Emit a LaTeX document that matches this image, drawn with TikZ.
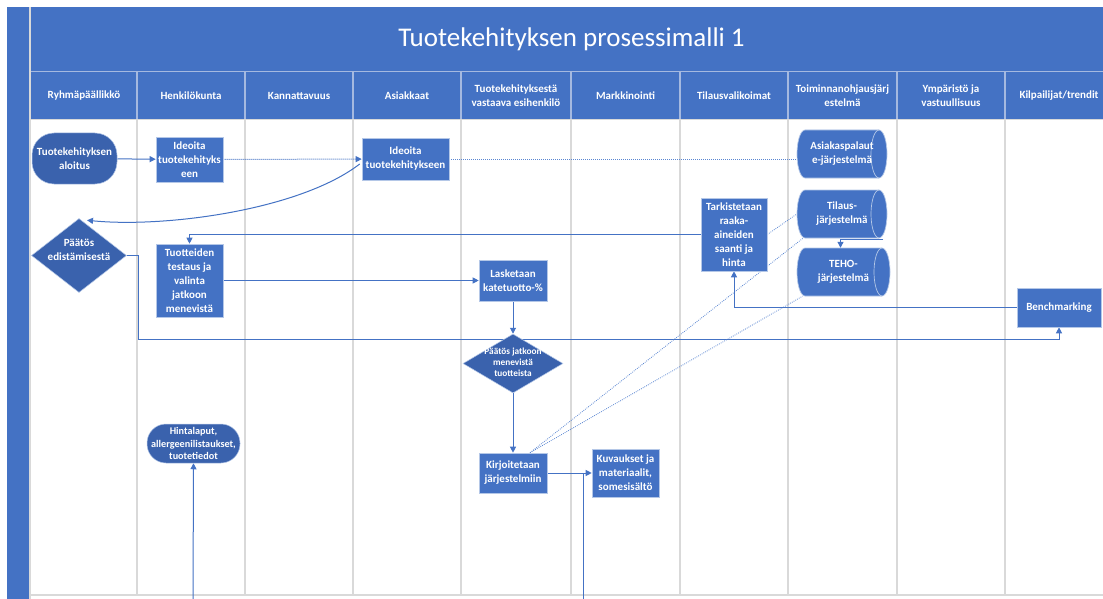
\documentclass[tikz,border=0pt]{standalone}
\usepackage{fontspec}
\setmainfont{Carlito}
\usetikzlibrary{arrows.meta,shapes.geometric,calc}
\definecolor{brandblue}{HTML}{4472C4}
\definecolor{deepblue}{HTML}{3A62AD}
\definecolor{boxedge}{HTML}{B4C7E7}
\definecolor{laneline}{HTML}{D9D9D9}
\definecolor{headline}{HTML}{A5B9E0}
\definecolor{dotblue}{HTML}{5A86D2}
\pgfdeclarelayer{back}
\pgfdeclarelayer{wires}
\pgfsetlayers{back,wires,main}
\tikzset{
  lbl/.style={text=white, align=center, inner sep=0pt, font=\fontsize{11}{14}\selectfont\bfseries},
  headlbl/.style={lbl},
  procbox/.style={lbl, rectangle, fill=brandblue, draw=boxedge, line width=0.6pt},
  termbox/.style={lbl, rectangle, fill=deepblue, draw=boxedge, line width=0.5pt, rounded corners=#1},
  decision/.style={diamond, fill=deepblue, draw=boxedge, line width=0.5pt, inner sep=0pt},
  storeskin/.style={fill=brandblue, draw=boxedge, line width=0.7pt},
  flow/.style={draw=brandblue, line width=1pt, -{Triangle[length=6pt,width=6pt]}},
  plainwire/.style={draw=brandblue, line width=1pt},
  dotwire/.style={draw=dotblue, line width=0.8pt, dash pattern=on 0.8pt off 1.2pt},
  lane/.style={draw=laneline, line width=1.4pt},
  headsep/.style={draw=headline, line width=1.1pt},
}
% horizontal data-store cylinder: name, centre x, centre y, width, text
\newcommand\datastore[5]{%
  \begin{scope}[shift={(#2,#3)}]
    \filldraw[storeskin]
      (-#4/2+8,-24) -- (#4/2-8,-24)
      arc[start angle=90, end angle=-90, x radius=8pt, y radius=24pt]
      -- (-#4/2+8,24)
      arc[start angle=270, end angle=90, x radius=8pt, y radius=24pt] -- cycle;
    \draw[storeskin, fill=none]
      (#4/2-8,-24) arc[start angle=90, end angle=270, x radius=8pt, y radius=24pt];
  \end{scope}
  \node[lbl, minimum width=#4, minimum height=48] (#1) at (#2,#3) {#5};
}
\begin{document}
\begin{tikzpicture}[x=1pt,y=-1pt]
\useasboundingbox (0,0) rectangle (1103,599);
\clip (0,0) rectangle (1103,599);

% swimlane frame
\begin{pgfonlayer}{back}
  \fill[white] (0,0) rectangle (1103,599);
  \fill[brandblue] (7,7) rectangle (29,599);
  \fill[brandblue] (31,7) rectangle (1103,119);
  \draw[lane] (30,7) -- (30,599);
  \draw[headsep] (31,71.5) -- (1103,71.5);
  \foreach \x in {137,245,353,461,571,680,788,897,1005} {
    \draw[headsep] (\x,72) -- (\x,119);
    \draw[lane] (\x,119) -- (\x,595);
  }
  \draw[lane] (30,119.5) -- (1103,119.5);
  \draw[lane] (30,595) -- (1103,595);
\end{pgfonlayer}

% title and lane headings
\node[text=white, inner sep=0pt, font=\fontsize{27}{30}\selectfont] (title) at (571.5,39) {Tuotekehityksen prosessimalli 1};
\node[headlbl] (hA) at (84,96) {Ryhmäpäällikkö};
\node[headlbl] (hB) at (191,96) {Henkilökunta};
\node[headlbl] (hC) at (299,96) {Kannattavuus};
\node[headlbl] (hD) at (407,96) {Asiakkaat};
\node[headlbl] (hE) at (516,96) {Tuotekehityksestä\\vastaava esihenkilö};
\node[headlbl] (hF) at (625.5,96) {Markkinointi};
\node[headlbl] (hG) at (734,96) {Tilausvalikoimat};
\node[headlbl] (hH) at (842.5,96) {Toiminnanohjausjärj\\estelmä};
\node[headlbl] (hI) at (951,96) {Ympäristö ja\\vastuullisuus};
\node[headlbl] (hJ) at (1059,96) {Kilpailijat/trendit};

% process shapes
\node[termbox=22, minimum width=85, minimum height=51] (start) at (74.5,158.5) {Tuotekehityksen\\aloitus};
\node[procbox, minimum width=67, minimum height=45] (idea1) at (189.5,159.5) {Ideoita\\tuotekehityks\\een};
\node[procbox, minimum width=87, minimum height=42] (idea2) at (405.5,159) {Ideoita\\tuotekehitykseen};
\node[decision, minimum width=95, minimum height=74] (dec1) at (79,255.5) {};
\node[lbl] (dec1t) at (79,250) {Päätös\\edistämisestä};
\node[procbox, minimum width=67, minimum height=73] (test) at (189.5,280.5) {Tuotteiden\\testaus ja\\valinta\\jatkoon\\menevistä};
\node[procbox, minimum width=68, minimum height=41] (calc) at (513,280.5) {Lasketaan\\katetuotto-\%};
\node[procbox, minimum width=66, minimum height=73] (check) at (734,234.5) {Tarkistetaan\\raaka-\\aineiden\\saanti ja\\hinta};
\datastore{crm}{842}{154}{90}{Asiakaspalaut\\e-järjestelmä}
\datastore{order}{842}{214}{90}{Tilaus-\\järjestelmä}
\datastore{teho}{843.5}{272}{93}{TEHO-\\järjestelmä}
\node[procbox, minimum width=84, minimum height=39] (bench) at (1059,307.5) {Benchmarking};
\node[decision, minimum width=100, minimum height=59] (dec2) at (513,363.5) {};
\node[lbl, font=\fontsize{9.3}{11.2}\selectfont\bfseries] (dec2t) at (513,362.5) {Päätös jatkoon\\menevistä\\tuotteista};
\node[procbox, minimum width=68, minimum height=40] (write) at (513,473) {Kirjoitetaan\\järjestelmiin};
\node[procbox, minimum width=67, minimum height=48] (media) at (625.5,473) {Kuvaukset ja\\materiaalit,\\somesisältö};
\node[termbox=19, minimum width=93, minimum height=39, font=\fontsize{10.2}{12.3}\selectfont\bfseries] (labels) at (193.5,443.5) {Hintalaput,\\allergeenilistaukset,\\tuotetiedot};

% connector end points
\coordinate (lowbend) at (138,339);
\coordinate (mediafoot) at (583,599);
\coordinate (mediajoin) at (583,473);
\coordinate (labelfoot) at (193,599);
\coordinate (writetop) at ($(write.north)+(17,0)$);

% connectors
\begin{pgfonlayer}{wires}
  \draw[flow] (start) -- (idea1);
  \draw[flow, dash pattern=on 1pt off 1pt] (idea1) -- (idea2);
  \draw[dotwire] (idea2.east) -- (idea2.east -| crm.west);
  \draw[flow] ($(idea2.west)+(-2,5)$) .. controls (300,210) and (165,228) .. ($(dec1.north)+(8,2)$);
  \draw[flow] (check.west) -| (test.north);
  \draw[flow] (dec1.east) -| (lowbend) -| (bench.south);
  \draw[flow] (test) -- (calc);
  \draw[dotwire] ($(calc.east)+(0,-5)$) -- ($(calc.east)+(0,-5)$ -| teho.west);
  \draw[flow] (calc) -- (dec2);
  \draw[flow] (dec2) -- (write);
  \draw[flow] (write) -- (media);
  \draw[plainwire] (mediafoot) -- (mediajoin);
  \draw[flow] (labelfoot) -- (labels.south);
  \draw[dotwire] (check.east) -- (order.west);
  \draw[dotwire] (writetop) -- ($(order.south)+(-39,0)$);
  \draw[dotwire] (writetop) -- ($(teho.south)+(-41,0)$);
  \draw[flow] ($(order.south)+(41,1)$) -| ($(teho.north)+(-3,0)$);
  \draw[flow] (bench.west) -| (check.south);
\end{pgfonlayer}
\end{tikzpicture}
\end{document}
